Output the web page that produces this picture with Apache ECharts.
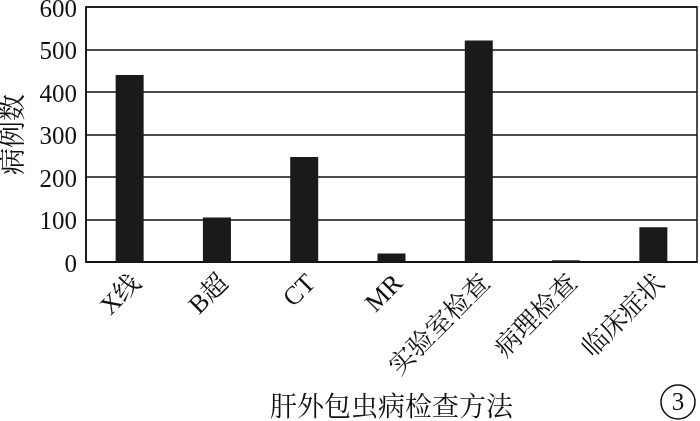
<!DOCTYPE html>
<html>
<head>
<meta charset="utf-8">
<script src="https://cdn.jsdelivr.net/npm/echarts@6/dist/echarts.min.js"></script>
<style>html,body{margin:0;padding:0;background:#fff;}#c{width:700px;height:421px;}</style>
</head>
<body>
<div id="c"></div>
<script>
const categories = ['X线', 'B超', 'CT', 'MR', '实验室检查', '病理检查', '临床症状'];
const values = [440, 105, 247, 20, 521, 4, 82];
const yTicks = [0, 100, 200, 300, 400, 500, 600];
const xTitle = '肝外包虫病检查方法';
const yTitle = '病例数';
const panelLabel = '3';

const FONT = "Times New Roman, Liberation Serif, Noto Serif CJK SC, Noto Sans CJK SC, serif";
const chart = echarts.init(document.getElementById('c'));
chart.setOption({
  animation: false,
  backgroundColor: '#fff',
  grid: { left: 86, right: 3, top: 7, bottom: 159, outerBoundsMode: 'none', containLabel: false, show: true, borderColor: '#111', borderWidth: 1.5, backgroundColor: 'transparent' },
  xAxis: {
    type: 'category',
    data: categories,
    name: xTitle,
    nameLocation: 'middle',
    nameGap: 133,
    nameTextStyle: { fontFamily: FONT, fontSize: 27, color: '#111' },
    axisLine: { lineStyle: { color: '#111', width: 1.5 } },
    axisTick: { show: false },
    axisLabel: {
      rotate: 45, interval: 0, margin: 10,
      formatter: function (v) { return '{a|' + v + '}'; },
      rich: { a: { fontFamily: FONT, fontSize: 26, color: '#111', padding: [22, 0, 0, 0] } }
    }
  },
  yAxis: {
    type: 'value',
    min: yTicks[0],
    max: yTicks[yTicks.length - 1],
    interval: 100,
    name: yTitle,
    nameLocation: 'middle',
    nameGap: 58,
    nameTextStyle: { fontFamily: FONT, fontSize: 27, color: '#111' },
    axisLine: { show: true, lineStyle: { color: '#111', width: 1.5 } },
    axisTick: { show: false },
    splitLine: { lineStyle: { color: '#111', width: 1.5 } },
    axisLabel: {
      margin: 9,
      formatter: '{a|{value}}',
      rich: { a: { fontFamily: FONT, fontSize: 25, color: '#111', padding: [6, 0, 0, 0] } }
    }
  },
  series: [{
    type: 'bar',
    data: values,
    barWidth: 28,
    itemStyle: { color: '#1a1a1a' }
  }],
  graphic: [
    { type: 'circle', shape: { cx: 678, cy: 402, r: 17 }, style: { fill: 'none', stroke: '#111', lineWidth: 1.5 } },
    { type: 'text', x: 678, y: 403, style: { text: panelLabel, fontFamily: FONT, fontSize: 25, fill: '#111', align: 'center', verticalAlign: 'middle' } }
  ]
});
</script>
</body>
</html>
